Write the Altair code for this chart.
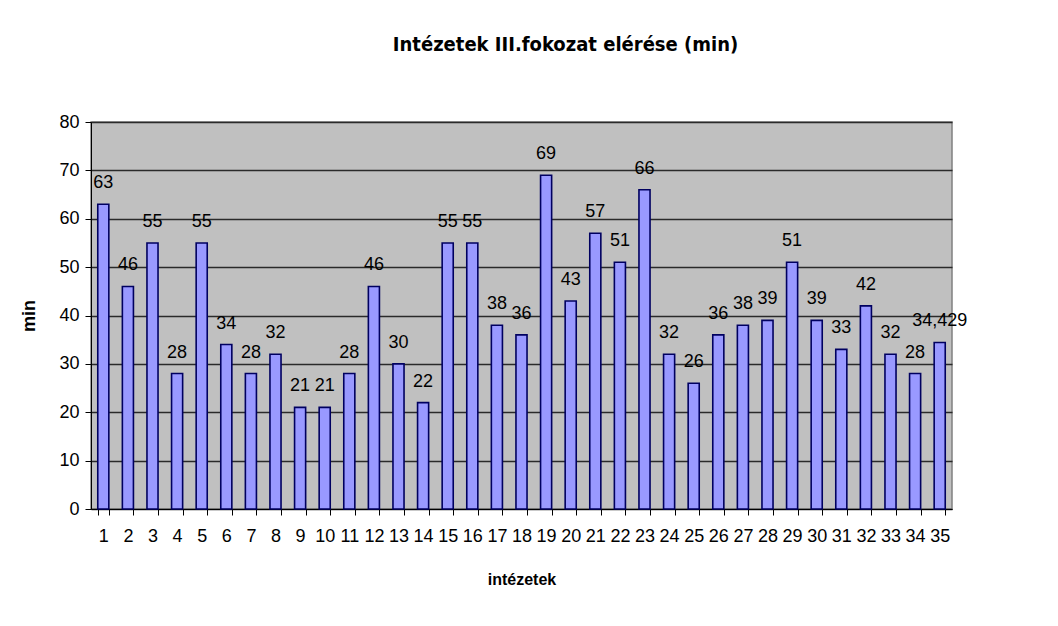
import altair as alt
import pandas as pd

categories = [str(i) for i in range(1, 36)]
values = [63, 46, 55, 28, 55, 34, 28, 32, 21, 21, 28, 46, 30, 22, 55, 55, 38, 36, 69, 43,
          57, 51, 66, 32, 26, 36, 38, 39, 51, 39, 33, 42, 32, 28, 34.429]
labels = ["63", "46", "55", "28", "55", "34", "28", "32", "21", "21", "28", "46", "30", "22",
          "55", "55", "38", "36", "69", "43", "57", "51", "66", "32", "26", "36", "38", "39",
          "51", "39", "33", "42", "32", "28", "34,429"]
y_ticks = [0, 10, 20, 30, 40, 50, 60, 70, 80]

df = pd.DataFrame({"cat": categories, "val": values, "lab": labels})

FONT = "Liberation Sans, Arial, sans-serif"
NARROW = "Liberation Sans Narrow, DejaVu Sans Condensed, sans-serif"

x = alt.X("cat:O", sort=categories,
          scale=alt.Scale(paddingInner=0.55, paddingOuter=0.275),
          axis=alt.Axis(title="intézetek", labelAngle=0, tickBand="extent",
                        labelFontSize=18, labelFont=FONT, labelPadding=12,
                        tickSize=6, tickColor="#000", domainColor="#000",
                        titleFontSize=16, titleFont=FONT, titleFontWeight="bold",
                        titlePadding=26, grid=False))
y = alt.Y("val:Q", scale=alt.Scale(domain=[0, 80]),
          axis=alt.Axis(title="min", values=y_ticks, labelFontSize=18, labelFont=FONT,
                        labelPadding=6, tickSize=6, tickColor="#000", domainColor="#000",
                        titleFontSize=18, titleFont=FONT, titleFontWeight="bold",
                        titlePadding=20, grid=True, gridColor="#2a2a2a", gridWidth=1.5))

bars = alt.Chart(df).mark_bar(fill="#9999FF", stroke="#000060", strokeWidth=1.6).encode(x=x, y=y)
text = alt.Chart(df).mark_text(baseline="bottom", dy=-12, fontSize=18, font=FONT, color="#000").encode(
    x=alt.X("cat:O", sort=categories), y=alt.Y("val:Q"), text="lab:N")

chart = (bars + text).properties(
    width=861, height=387,
    title=alt.TitleParams("Intézetek III.fokozat elérése (min)", fontSize=20, font=NARROW,
                          fontWeight="bold", dx=44, offset=58, color="#000"),
    autosize=alt.AutoSizeParams(type="none"),
    padding={"left": 83, "top": 114, "right": 98, "bottom": 109},
).configure(background="white").configure_view(fill="#C0C0C0", stroke="#808080", strokeWidth=1.5)

chart.save("out.html", embed_options={"renderer": "svg", "actions": False})
